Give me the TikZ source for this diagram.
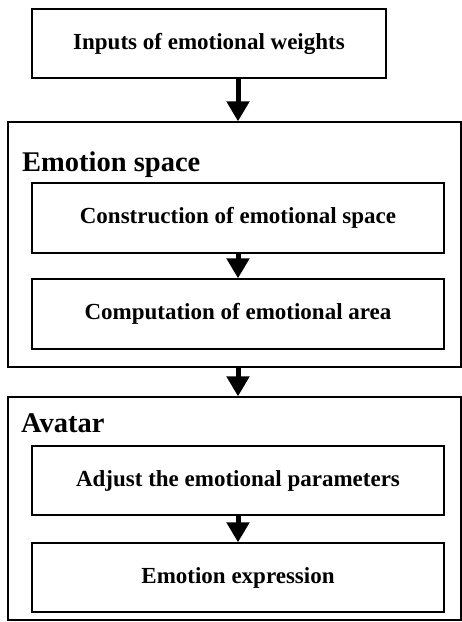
\documentclass[tikz,border=0pt]{standalone}
\usepackage{fontspec}
\setmainfont{Liberation Serif}
\usetikzlibrary{arrows.meta}
\tikzset{
  box/.style={draw, line width=1.3pt, rectangle, inner sep=0pt,
    font=\bfseries\fontsize{23}{27}\selectfont},
  grp/.style={draw, line width=1.3pt, rectangle, inner sep=0pt},
  grplabel/.style={anchor=base west, inner sep=0pt,
    font=\bfseries\fontsize{28.5}{33}\selectfont},
  arr/.style={line width=5pt, -{Triangle[width=22pt,length=20pt]}}
}
\begin{document}
\begin{tikzpicture}[x=1pt,y=-1pt]
\useasboundingbox (0,0) rectangle (462,622);
\node[box, minimum width=354pt, minimum height=69pt] (top) at (209,43.5) {Inputs of emotional weights};
\node[grp, minimum width=453pt, minimum height=245pt] (out1) at (234.5,244.5) {};
\node[grplabel] (lab1) at (22,171) {Emotion space};
\node[box, minimum width=412pt, minimum height=70pt] (in1) at (238,218) {Construction of emotional space};
\node[box, minimum width=412pt, minimum height=70pt] (in2) at (238,314) {Computation of emotional area};
\node[grp, minimum width=453pt, minimum height=223pt] (out2) at (234.5,508.5) {};
\node[grplabel] (lab2) at (21,432) {Avatar};
\node[box, minimum width=412pt, minimum height=69pt] (in3) at (238,480.5) {Adjust the emotional parameters};
\node[box, minimum width=412pt, minimum height=69pt] (in4) at (238,577.5) {Emotion expression};
\draw[arr] (in1.north |- top.south) -- (in1.north |- out1.north);
\draw[arr] (in1.south) -- (in2.north);
\draw[arr] (in1.north |- out1.south) -- (in1.north |- out2.north);
\draw[arr] (in3.south) -- (in4.north);
\end{tikzpicture}
\end{document}
